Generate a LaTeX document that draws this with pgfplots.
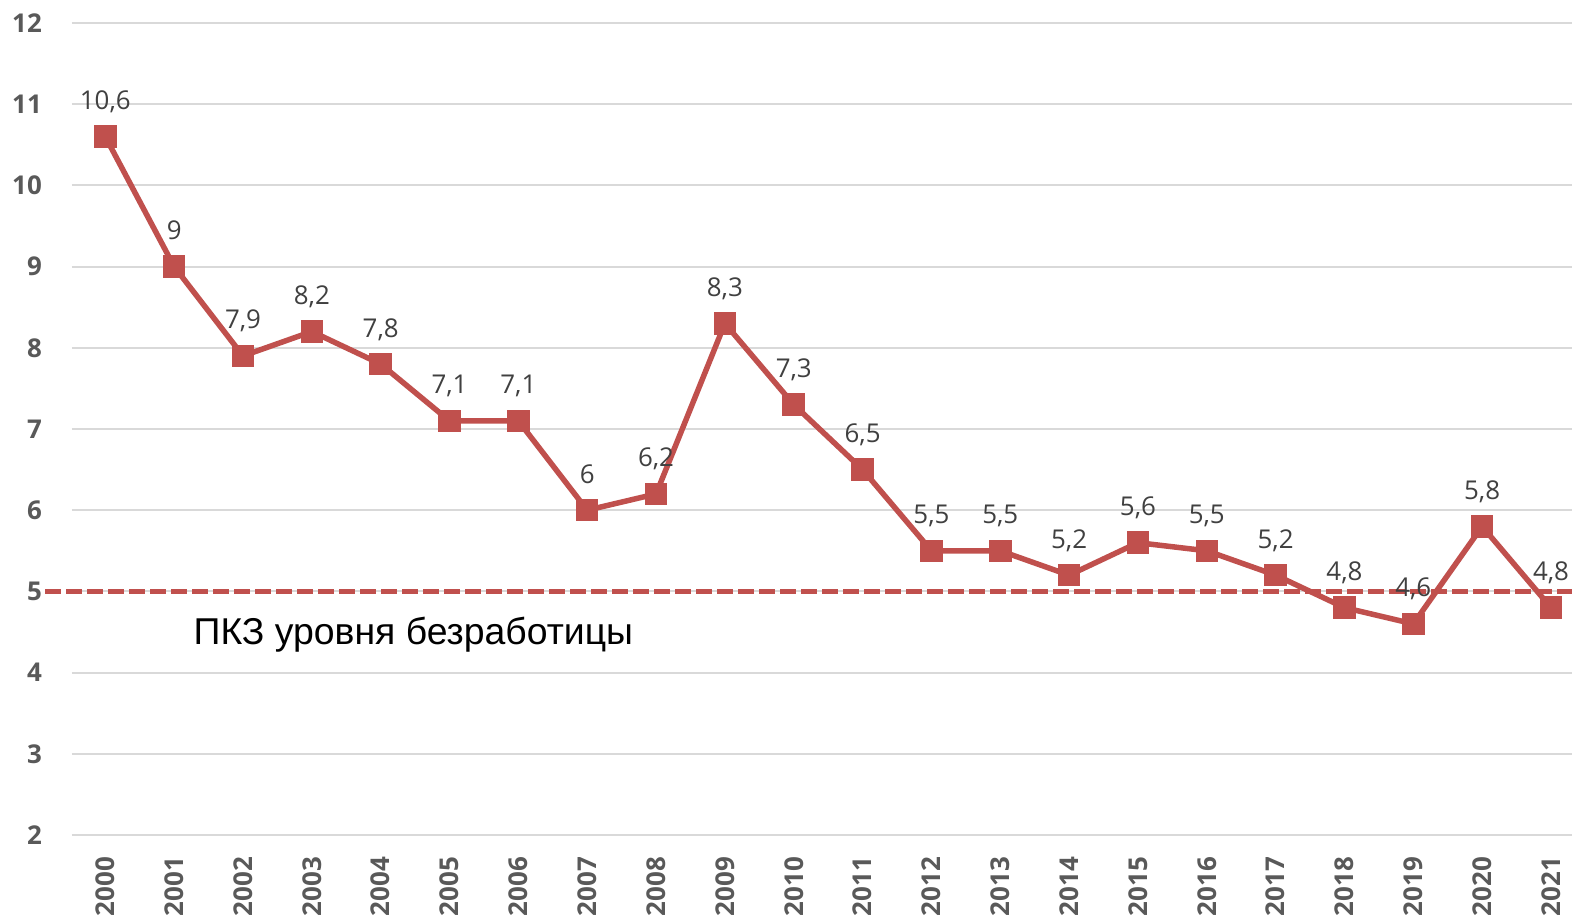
\documentclass[border=0pt]{standalone}
\usepackage{pgfplots}
\pgfplotsset{compat=1.18}
\usepackage{fontspec}
\setmainfont{Open Sans}
\newfontfamily\arialfont{Liberation Sans}
\definecolor{lred}{HTML}{C0504D}
\definecolor{gridc}{HTML}{D9D9D9}
\definecolor{tickc}{HTML}{595959}
\definecolor{labc}{HTML}{404040}
\pgfplotstableread{
x y l
0 10.6 {10,6}
1 9 {9}
2 7.9 {7,9}
3 8.2 {8,2}
4 7.8 {7,8}
5 7.1 {7,1}
6 7.1 {7,1}
7 6 {6}
8 6.2 {6,2}
9 8.3 {8,3}
10 7.3 {7,3}
11 6.5 {6,5}
12 5.5 {5,5}
13 5.5 {5,5}
14 5.2 {5,2}
15 5.6 {5,6}
16 5.5 {5,5}
17 5.2 {5,2}
18 4.8 {4,8}
19 4.6 {4,6}
20 5.8 {5,8}
21 4.8 {4,8}
}\datatable
\begin{document}
\begin{tikzpicture}
\begin{axis}[
 name=ax, at={(0,0)}, anchor=south west,
 scale only axis, width=1500bp, height=812bp,
 xmin=-0.484, xmax=21.305, ymin=2, ymax=12,
 axis line style={draw=none},
 tick style={draw=none},
 ymajorgrids, grid style={gridc, line width=2bp},
 xtick={0,...,21},
 xticklabels={2000,2001,2002,2003,2004,2005,2006,2007,2008,2009,2010,2011,2012,2013,2014,2015,2016,2017,2018,2019,2020,2021},
 ytick={2,...,12},
 /pgf/number format/assume math mode=true,
 yticklabel style={font=\bfseries\fontsize{26}{30}\selectfont, text=tickc, anchor=east, inner xsep=30bp, inner ysep=0pt},
 xticklabel style={font=\bfseries\fontsize{26}{30}\selectfont, text=tickc, rotate=90, anchor=east, inner xsep=22bp, inner ysep=0pt},
 clip=false,
]
\addplot[lred, line width=4.5bp, dash pattern=on 16bp off 5bp, forget plot] coordinates {(-0.876,5) (21.305,5)};
\addplot[lred, line width=5.5bp, mark=square*, mark size=8.5bp, mark options={solid},
  nodes near coords, point meta=explicit symbolic,
  every node near coord/.append style={font=\fontsize{26}{30}\selectfont, text=labc, anchor=base, inner sep=0pt, yshift=27bp}]
  table[x=x, y=y, meta=l] {\datatable};
\node[anchor=base west, inner sep=0pt, font=\arialfont\fontsize{37.5}{42}\selectfont] at (axis cs:1.281,4.352) {ПКЗ уровня безработицы};
\end{axis}
\pgfresetboundingbox
\path[use as bounding box] (-72bp,-84bp) rectangle (1500bp,835bp);
\end{tikzpicture}
\end{document}
